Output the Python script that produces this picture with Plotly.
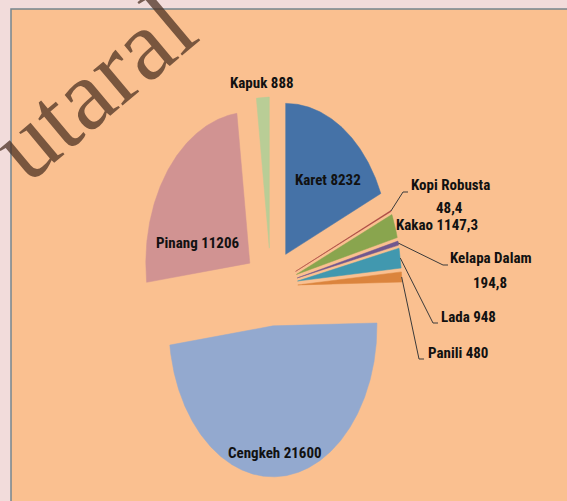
import numpy as np
import plotly.graph_objects as go

# ---------------- data ----------------
categories = ["Karet", "Kopi Robusta", "Kakao", "Kelapa Dalam", "Lada",
              "Panili", "Cengkeh", "Pinang", "Kapuk"]
values = [8232, 48.4, 1147.3, 194.8, 948, 480, 21600, 11206, 888]

# ---------------- styles / layout ----------------
colors = ["#4572A7", "#AA4643", "#89A54E", "#71588F", "#4198AF",
          "#DB843D", "#93A9CF", "#D19392", "#B9CD96"]
W, H = 567, 501
CX, CY = 271, 287          # pie centre (pixels)
RX, RY = 104, 151          # elliptical radii (pixels)
EXPLODE = 0.258            # explode distance as fraction of radius

# label placement: (x, y, xanchor)
label_pos = {
    "Karet": (328, 180, "center"),
    "Kopi Robusta": (409, 185, "left"),
    "Kakao": (437, 225, "center"),
    "Kelapa Dalam": (448, 258, "left"),
    "Lada": (439, 317, "left"),
    "Panili": (426, 353, "left"),
    "Cengkeh": (275, 453, "center"),
    "Pinang": (197, 243, "center"),
    "Kapuk": (262, 83, "center"),
}
# second-line (value) positions for wrapped labels
value_line_pos = {"Kopi Robusta": (449, 208), "Kelapa Dalam": (490, 283)}
# leader line tail end points (label side)
leader_end = {"Kopi Robusta": (408, 192), "Kelapa Dalam": (448, 265),
              "Lada": (438, 323), "Panili": (424, 359)}

LABEL_FONT = dict(family="Liberation Sans Narrow, Roboto Condensed, DejaVu Sans Condensed, sans-serif",
                  size=15, color="#111111", weight="bold")


def fmt(v):
    return f"{v:g}".replace(".", ",")


fig = go.Figure()

# frame / background
fig.add_shape(type="rect", x0=11, y0=9, x1=W + 2, y1=H + 2, xref="x", yref="y",
              fillcolor="#FAC090", line=dict(color="#76858F", width=1.5), layer="below")

total = float(sum(values))
start = 0.0
geo = {}
for name, val, col in zip(categories, values, colors):
    span = val / total * 360.0
    t0, t1 = start, start + span
    tm = np.radians((t0 + t1) / 2)
    ox = CX + EXPLODE * RX * np.sin(tm)
    oy = CY - EXPLODE * RY * np.cos(tm)
    n = max(3, int(span * 2))
    th = np.radians(np.linspace(t0, t1, n))
    xs = np.concatenate([[ox], ox + RX * np.sin(th), [ox]])
    ys = np.concatenate([[oy], oy - RY * np.cos(th), [oy]])
    fig.add_trace(go.Scatter(x=xs, y=ys, mode="lines", fill="toself",
                             fillcolor=col, line=dict(color=col, width=0.5),
                             name=name, hoverinfo="name", showlegend=False))
    geo[name] = (ox + RX * np.sin(tm), oy - RY * np.cos(tm))
    start = t1

# leader lines
for name, (ex, ey) in leader_end.items():
    sx, sy = geo[name]
    fig.add_trace(go.Scatter(x=[sx, ex - 5, ex], y=[sy, ey, ey], mode="lines",
                             line=dict(color="#3a3a3a", width=1),
                             hoverinfo="skip", showlegend=False))

# labels
for name, val in zip(categories, values):
    x, y, anc = label_pos[name]
    if name in value_line_pos:
        fig.add_annotation(x=x, y=y, xref="x", yref="y", text=name, showarrow=False,
                           xanchor=anc, yanchor="middle", font=LABEL_FONT)
        vx, vy = value_line_pos[name]
        fig.add_annotation(x=vx, y=vy, xref="x", yref="y", text=fmt(val), showarrow=False,
                           xanchor="center", yanchor="middle", font=LABEL_FONT)
    else:
        fig.add_annotation(x=x, y=y, xref="x", yref="y", text=f"{name} {fmt(val)}",
                           showarrow=False, xanchor=anc, yanchor="middle", font=LABEL_FONT)

# watermark
fig.add_annotation(x=93, y=86, xref="x", yref="y", text="utaral", showarrow=False,
                   textangle=-40, xanchor="center", yanchor="middle",
                   font=dict(family="Liberation Serif, DejaVu Serif, serif", size=100,
                             color="rgba(70,45,30,0.72)"))

fig.update_layout(
    width=W, height=H, margin=dict(l=0, r=0, t=0, b=0),
    paper_bgcolor="#F2DCDB", plot_bgcolor="#F2DCDB",
    xaxis=dict(range=[0, W], visible=False, fixedrange=True),
    yaxis=dict(range=[H, 0], visible=False, fixedrange=True),
    showlegend=False,
)

fig.write_html("out.html", config={"displayModeBar": False},
               post_script="document.body.style.margin='0';document.body.style.overflow='hidden';")
